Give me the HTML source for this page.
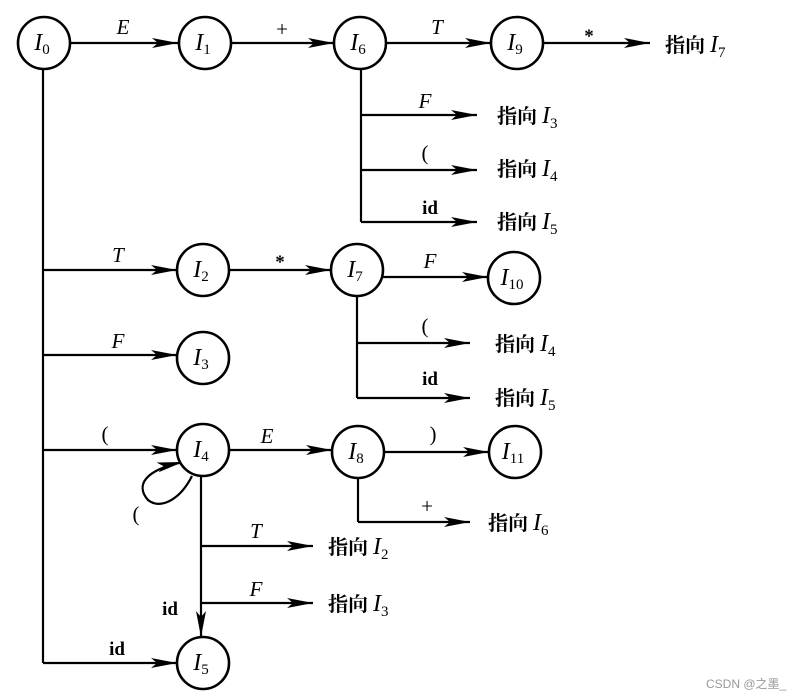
<!DOCTYPE html>
<html><head><meta charset="utf-8"><style>
html,body{margin:0;padding:0;background:#fff;}
svg{display:block;}
.s{font-family:"Liberation Serif",serif;font-style:italic;font-size:24px;font-weight:normal;}
.sub{font-family:"Liberation Serif",serif;font-size:15px;font-style:normal;font-weight:normal;}
.l{font-family:"Liberation Serif",serif;font-size:21px;font-style:italic;}
.n{font-style:normal;}
.b{font-family:"Liberation Serif",serif;font-size:19px;font-weight:bold;font-style:normal;}
.c{font-family:"Liberation Serif","Noto Serif CJK SC",serif;font-size:20px;font-weight:bold;}
</style></head><body>
<svg width="803" height="699" viewBox="0 0 803 699" xmlns="http://www.w3.org/2000/svg">
<defs><marker id="a" markerWidth="26" markerHeight="12" refX="26" refY="6" orient="auto" markerUnits="userSpaceOnUse"><path d="M0,1 L26,6 L0,11 L6,6 z" fill="#000"/></marker></defs>
<g stroke="#000" stroke-width="2.2" fill="none">
<line x1="70" y1="43" x2="178" y2="43" marker-end="url(#a)"/>
<line x1="231" y1="43" x2="334" y2="43" marker-end="url(#a)"/>
<line x1="386" y1="43" x2="491" y2="43" marker-end="url(#a)"/>
<line x1="543" y1="43" x2="650" y2="43" marker-end="url(#a)"/>
<polyline points="361,69 361,222"/>
<line x1="361" y1="115" x2="477" y2="115" marker-end="url(#a)"/>
<line x1="361" y1="170" x2="477" y2="170" marker-end="url(#a)"/>
<line x1="361" y1="222" x2="477" y2="222" marker-end="url(#a)"/>
<polyline points="43,69 43,663"/>
<line x1="43" y1="663" x2="177" y2="663" marker-end="url(#a)"/>
<line x1="43" y1="270" x2="177" y2="270" marker-end="url(#a)"/>
<line x1="43" y1="355" x2="177" y2="355" marker-end="url(#a)"/>
<line x1="43" y1="450" x2="177" y2="450" marker-end="url(#a)"/>
<line x1="229" y1="270" x2="331" y2="270" marker-end="url(#a)"/>
<line x1="383" y1="277" x2="488" y2="277" marker-end="url(#a)"/>
<polyline points="357,296 357,398"/>
<line x1="357" y1="343" x2="470" y2="343" marker-end="url(#a)"/>
<line x1="357" y1="398" x2="470" y2="398" marker-end="url(#a)"/>
<line x1="229" y1="450" x2="332" y2="450" marker-end="url(#a)"/>
<line x1="384" y1="452" x2="489" y2="452" marker-end="url(#a)"/>
<polyline points="358,478 358,522"/>
<line x1="358" y1="522" x2="470" y2="522" marker-end="url(#a)"/>
<line x1="201" y1="476" x2="201" y2="637" marker-end="url(#a)"/>
<line x1="201" y1="546" x2="313" y2="546" marker-end="url(#a)"/>
<line x1="201" y1="603" x2="313" y2="603" marker-end="url(#a)"/>
<path d="M192,476 C180,500 160,510 148,500 C135,485 145,470 183,462" marker-end="url(#a)"/>
</g>
<g stroke="#000" stroke-width="2.6" fill="#fff">
<circle cx="44" cy="43" r="26"/><circle cx="205" cy="43" r="26"/><circle cx="360" cy="43" r="26"/><circle cx="517" cy="43" r="26"/>
<circle cx="203" cy="270" r="26"/><circle cx="357" cy="270" r="26"/><circle cx="514" cy="278" r="26"/>
<circle cx="203" cy="358" r="26"/><circle cx="203" cy="450" r="26"/><circle cx="358" cy="452" r="26"/><circle cx="515" cy="452" r="26"/>
<circle cx="203" cy="663" r="26"/>
</g>
<g class="s" text-anchor="middle">
<text x="42" y="50">I<tspan class="sub" dy="4">0</tspan></text>
<text x="203" y="50">I<tspan class="sub" dy="4">1</tspan></text>
<text x="358" y="50">I<tspan class="sub" dy="4">6</tspan></text>
<text x="515" y="50">I<tspan class="sub" dy="4">9</tspan></text>
<text x="201" y="277">I<tspan class="sub" dy="4">2</tspan></text>
<text x="355" y="277">I<tspan class="sub" dy="4">7</tspan></text>
<text x="512" y="285">I<tspan class="sub" dy="4">10</tspan></text>
<text x="201" y="365">I<tspan class="sub" dy="4">3</tspan></text>
<text x="201" y="457">I<tspan class="sub" dy="4">4</tspan></text>
<text x="356" y="459">I<tspan class="sub" dy="4">8</tspan></text>
<text x="513" y="459">I<tspan class="sub" dy="4">11</tspan></text>
<text x="201" y="670">I<tspan class="sub" dy="4">5</tspan></text>
</g>
<g class="l" text-anchor="middle">
<text x="123" y="34">E</text><text x="282" y="36" class="n">+</text><text x="437" y="34">T</text>
<text x="589" y="42" class="b">*</text>
<text x="425" y="108">F</text><text x="425" y="160" class="n">(</text><text x="430" y="214" class="b">id</text>
<text x="118" y="262">T</text><text x="280" y="268" class="b">*</text><text x="430" y="268">F</text>
<text x="425" y="333" class="n">(</text><text x="430" y="385" class="b">id</text>
<text x="118" y="348">F</text><text x="105" y="441" class="n">(</text>
<text x="267" y="443">E</text><text x="433" y="441" class="n">)</text><text x="427" y="513" class="n">+</text>
<text x="136" y="521" class="n">(</text>
<text x="256" y="538">T</text><text x="256" y="596">F</text>
<text x="170" y="615" class="b">id</text><text x="117" y="655" class="b">id</text>
</g>
<g class="c">
<text x="665" y="52">指向 <tspan class="s">I</tspan><tspan class="sub" dy="5">7</tspan></text>
<text x="497" y="123">指向 <tspan class="s">I</tspan><tspan class="sub" dy="5">3</tspan></text>
<text x="497" y="176">指向 <tspan class="s">I</tspan><tspan class="sub" dy="5">4</tspan></text>
<text x="497" y="229">指向 <tspan class="s">I</tspan><tspan class="sub" dy="5">5</tspan></text>
<text x="495" y="351">指向 <tspan class="s">I</tspan><tspan class="sub" dy="5">4</tspan></text>
<text x="495" y="405">指向 <tspan class="s">I</tspan><tspan class="sub" dy="5">5</tspan></text>
<text x="488" y="530">指向 <tspan class="s">I</tspan><tspan class="sub" dy="5">6</tspan></text>
<text x="328" y="554">指向 <tspan class="s">I</tspan><tspan class="sub" dy="5">2</tspan></text>
<text x="328" y="611">指向 <tspan class="s">I</tspan><tspan class="sub" dy="5">3</tspan></text>
</g>
<text x="706" y="688" font-family="Liberation Sans,Noto Sans CJK SC,sans-serif" font-size="12" fill="#999">CSDN @之墨_</text>
</svg>
</body></html>
